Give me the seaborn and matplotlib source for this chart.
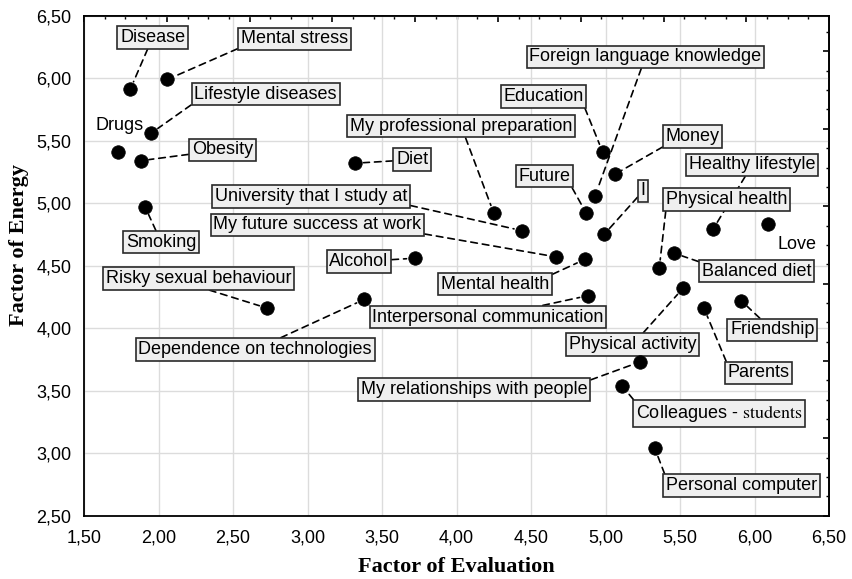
import numpy as np
import pandas as pd
import matplotlib
matplotlib.use("Agg")
import matplotlib.pyplot as plt
import seaborn as sns
from matplotlib.ticker import FuncFormatter, MultipleLocator

# data
names = ["Disease", "Mental stress", "Lifestyle diseases", "Drugs", "Obesity",
         "Diet", "Smoking", "Risky sexual behaviour", "Dependence on technologies",
         "Alcohol", "My professional preparation", "University that I study at",
         "My future success at work", "Mental health", "Interpersonal communication",
         "Future", "Foreign language knowledge", "Education", "Money", "I",
         "Healthy lifestyle", "Love", "Physical health", "Balanced diet",
         "Physical activity", "Parents", "Friendship", "My relationships with people",
         "Colleagues - $\\mathrm{students}$", "Personal computer"]
evaluation = [1.81, 2.06, 1.95, 1.73, 1.88, 3.32, 1.91, 2.73, 3.38, 3.72,
              4.25, 4.44, 4.67, 4.86, 4.88, 4.87, 4.93, 4.98, 5.06, 4.99,
              5.72, 6.09, 5.36, 5.46, 5.52, 5.66, 5.91, 5.23, 5.11, 5.33]
energy = [5.91, 5.99, 5.56, 5.41, 5.34, 5.32, 4.97, 4.16, 4.23, 4.56,
          4.92, 4.78, 4.57, 4.55, 4.26, 4.92, 5.06, 5.41, 5.23, 4.75,
          4.79, 4.83, 4.48, 4.60, 4.32, 4.16, 4.22, 3.73, 3.54, 3.04]
unboxed = ["Drugs", "Love"]

# where the label boxes sit (left edge of text, vertical centre)
lab_x = [1.742, 2.552, 2.240, 1.574, 2.223, 3.594, 1.782, 1.648, 1.865, 3.146,
         3.285, 2.379, 2.368, 3.896, 3.435, 4.415, 4.489, 4.314, 5.404, 5.236,
         5.560, 6.156, 5.406, 5.646, 4.755, 5.818, 5.836, 3.359, 5.205, 5.404]
lab_y = [6.326, 6.315, 5.872, 5.618, 5.426, 5.348, 4.688, 4.399, 3.830, 4.532,
         5.616, 5.055, 4.826, 4.352, 4.088, 5.216, 6.171, 5.854, 5.532, 5.099,
         5.307, 4.666, 5.028, 4.456, 3.870, 3.642, 3.986, 3.510, 3.319, 2.742]
# where the leader line leaves the box (fraction of box), default centre
line_start = {"Mental stress": (0, 0), "Lifestyle diseases": (0, 0),
              "Risky sexual behaviour": (0.5, 0), "University that I study at": (1, 0),
              "My future success at work": (1, 0), "Mental health": (1, 1),
              "Future": (1, 0), "Education": (1, 0), "Money": (0, 0),
              "Physical health": (0, 0), "Balanced diet": (0, 1), "Parents": (0, 1),
              "My relationships with people": (1, 1),
              "Colleagues - $\\mathrm{students}$": (0, 1), "Personal computer": (0, 1)}

df = pd.DataFrame({"name": names, "Evaluation": evaluation, "Energy": energy})

sns.set_style("white")
plt.rcParams["font.family"] = ["Liberation Sans", "DejaVu Sans"]
plt.rcParams["mathtext.fontset"] = "stix"
for k in ("text.color", "axes.labelcolor", "xtick.color", "ytick.color"):
    plt.rcParams[k] = "black"

fig, ax = plt.subplots(figsize=(8.53, 5.79), dpi=100)
fig.subplots_adjust(left=0.0985, right=0.972, bottom=0.1093, top=0.9729)

sns.scatterplot(data=df, x="Evaluation", y="Energy", color="black", s=95,
                edgecolor="black", linewidth=0.5, zorder=4, ax=ax, legend=False)

for i, nm in enumerate(names):
    if nm in unboxed:
        ax.text(lab_x[i], lab_y[i], nm, ha="left", va="center", fontsize=13, zorder=5)
        continue
    ax.annotate(nm, xy=(evaluation[i], energy[i]), xytext=(lab_x[i], lab_y[i]),
                ha="left", va="center", fontsize=13, zorder=3,
                bbox=dict(boxstyle="square,pad=0.15", fc="#efefef", ec="#2a2a2a", lw=1.2),
                arrowprops=dict(arrowstyle="-", color="black", lw=1.2,
                                linestyle=(0, (4, 3)), shrinkA=0, shrinkB=6,
                                relpos=line_start.get(nm, (0.5, 0.5))))

ax.set_xlim(1.5, 6.5)
ax.set_ylim(2.5, 6.5)
ax.xaxis.set_major_locator(MultipleLocator(0.5))
ax.yaxis.set_major_locator(MultipleLocator(0.5))
ax.xaxis.set_minor_locator(MultipleLocator(0.1))
ax.yaxis.set_minor_locator(MultipleLocator(0.1))
fmt = FuncFormatter(lambda v, p: f"{v:.2f}".replace(".", ","))
ax.xaxis.set_major_formatter(fmt)
ax.yaxis.set_major_formatter(fmt)
ax.tick_params(which="major", direction="in", length=4, width=1.2, labelsize=13, color="black")
ax.tick_params(which="minor", direction="in", length=2, width=1, color="black")
ax.tick_params(axis="x", pad=10)
ax.tick_params(axis="y", pad=9)
ax.grid(True, which="major", color="#dcdcdc", lw=1)
ax.set_axisbelow(True)
for sp in ax.spines.values():
    sp.set_color("black")
    sp.set_linewidth(1.3)

# top and right axes carry their own tick scale
top = ax.secondary_xaxis("top")
top.set_xticks(np.linspace(1.5, 6.5, 10), labels=[""] * 10)
top.set_xticks(np.linspace(1.5, 6.5, 37), minor=True)
top.tick_params(which="major", direction="in", length=4.5, width=1.2)
top.tick_params(which="minor", direction="in", length=2.5, width=1)
right = ax.secondary_yaxis("right")
ry = np.arange(2.5, 6.51, 0.619)
right.set_yticks(ry, labels=[""] * len(ry))
right.set_yticks(np.arange(2.5, 6.51, 0.15475), minor=True)
right.tick_params(which="major", direction="in", length=4.5, width=1.2)
right.tick_params(which="minor", direction="in", length=2.5, width=1)
for s in (top, right):
    for sp in s.spines.values():
        sp.set_linewidth(1.3)

ax.set_xlabel("Factor of Evaluation", fontsize=16, fontweight="bold",
              family=["Liberation Serif", "DejaVu Serif"])
ax.set_ylabel("Factor of Energy", fontsize=16, fontweight="bold",
              family=["Liberation Serif", "DejaVu Serif"])
ax.xaxis.set_label_coords(0.5, -0.082)
ax.yaxis.set_label_coords(-0.074, 0.541)

fig.savefig("out.png", dpi=100)
